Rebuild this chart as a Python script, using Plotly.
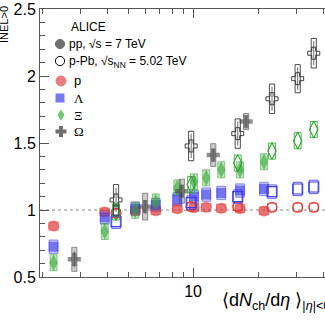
import plotly.graph_objects as go

# ---- data: yield ratios normalised to the inclusive (INEL>0) value ----
# pp, sqrt(s) = 7 TeV
pp_mult = [2.26, 3.90, 5.40, 6.72, 8.45, 10.1, 11.5, 13.5, 16.5, 21.3]
pp_p    = [0.88, 0.985, 0.995, 0.995, 1.01, 1.017, 1.02, 1.013, 1.01, 0.993]
pp_lam  = [0.726, 0.945, 1.01, 1.037, 1.08, 1.10, 1.115, 1.127, 1.145, 1.157]
pp_xi   = [0.607, 0.84, 0.998, 1.06, 1.165, 1.21, 1.24, 1.30, 1.30, 1.36]
pp_om_mult = [2.82, 6.0, 8.87, 12.4, 17.6]
pp_om      = [0.632, 1.025, 1.14, 1.41, 1.66]

# p-Pb, sqrt(s_NN) = 5.02 TeV
ppb_mult = [4.4, 9.8, 16.1, 23.2, 30.5, 36.2]
ppb_p    = [0.975, 1.025, 1.025, 1.02, 1.02, 1.02]
ppb_lam  = [0.913, 1.055, 1.10, 1.137, 1.157, 1.172]
ppb_xi   = [0.985, 1.19, 1.35, 1.44, 1.517, 1.60]
ppb_om   = [1.075, 1.478, 1.57, 1.83, 1.98, 2.17]

# systematic (box) and statistical (bar) half-sizes
sys_p, sys_lam, sys_xi = 0.03, 0.05, 0.06
pp_om_sys  = [0.09, 0.10, 0.09, 0.085, 0.06]
pp_om_stat = [0.06, 0.05, 0.05, 0.05, 0.04]
ppb_om_sys  = [0.115, 0.11, 0.11, 0.11, 0.105, 0.11]
ppb_om_stat = [0.09, 0.09, 0.09, 0.09, 0.085, 0.09]

RED, BLUE, GREEN, GREY, DARK = (225, 60, 60), (60, 60, 235), (50, 165, 50), (70, 70, 70), (45, 45, 45)


def rgba(c, a):
    return f"rgba({c[0]},{c[1]},{c[2]},{a})"


fig = go.Figure()
shapes = []


def boxes(xs, ys, sys, col, hw, filled):
    sys = sys if isinstance(sys, list) else [sys] * len(xs)
    for x, y, s in zip(xs, ys, sys):
        shapes.append(dict(
            type="rect", xref="x", yref="y", layer="below" if filled else "above",
            x0=x * 10 ** (-hw), x1=x * 10 ** hw, y0=y - s, y1=y + s,
            line=dict(color=rgba(col, 0.55 if filled else 0.85), width=1),
            fillcolor=rgba(col, 0.28) if filled else "rgba(0,0,0,0)"))


# pp: filled, semi-transparent markers with shaded boxes
boxes(pp_mult, pp_p, sys_p, RED, 0.022, True)
boxes(pp_mult, pp_lam, sys_lam, BLUE, 0.02, True)
boxes(pp_mult, pp_xi, sys_xi, GREEN, 0.016, True)
boxes(pp_om_mult, pp_om, pp_om_sys, GREY, 0.012, True)
# p-Pb: open markers with open boxes
boxes(ppb_mult, ppb_p, sys_p, RED, 0.02, False)
boxes(ppb_mult, ppb_lam, sys_lam, BLUE, 0.02, False)
boxes(ppb_mult, ppb_xi, sys_xi, GREEN, 0.016, False)
boxes(ppb_mult, ppb_om, ppb_om_sys, DARK, 0.012, False)


def add(xs, ys, sym, col, size, filled, err=None, lw=1.1):
    m = dict(symbol=sym, size=size)
    if filled:
        m.update(color=rgba(col, 0.6), line=dict(width=0))
    else:
        m.update(color=rgba(col, 1), line=dict(width=lw, color=rgba(col, 1)))
    fig.add_trace(go.Scatter(
        x=xs, y=ys, mode="markers", marker=m, showlegend=False,
        error_y=dict(type="data", array=err, color=rgba(col, 0.7), thickness=1, width=0)
        if err else None))


add(pp_mult, pp_p, "circle", RED, 11, True)
add(pp_mult, pp_lam, "square", BLUE, 10, True)
add(pp_mult, pp_xi, "diamond-tall", GREEN, 12, True)
add(pp_om_mult, pp_om, "cross", GREY, 11, True, pp_om_stat)
add(ppb_mult, ppb_p, "circle-open", RED, 10, False)
add(ppb_mult, ppb_lam, "square-open", BLUE, 10, False)
add(ppb_mult, ppb_xi, "diamond-tall-open", GREEN, 12, False)
add(ppb_mult, ppb_om, "cross-open", DARK, 10, False, ppb_om_stat, lw=0.9)

# ---- layout helpers in pixel units of the frame ----
PL, PT, PW, PH = 40, 9, 285, 268


def fx(x):
    return (x - PL) / PW


def fy(y):
    return (PT + PH - y) / PH


def path(pts):
    return "M " + " L ".join(f"{fx(a):.5f},{fy(b):.5f}" for a, b in pts) + " Z"


# unity reference line
shapes.append(dict(type="line", xref="paper", yref="y", x0=0, x1=1, y0=1, y1=1,
                   line=dict(color="#888", width=1, dash="dot"), layer="below"))


# legend symbols
def circ(cx, cy, r, fill, line):
    shapes.append(dict(type="circle", xref="paper", yref="paper",
                       x0=fx(cx - r), x1=fx(cx + r), y0=fy(cy + r), y1=fy(cy - r),
                       fillcolor=fill, line=dict(color=line, width=1)))


circ(60, 44, 4.6, "rgb(110,110,110)", "rgb(110,110,110)")
circ(60, 61, 4.6, "white", "black")
circ(61, 81, 5, "rgb(232,125,125)", "rgb(232,125,125)")
shapes.append(dict(type="path", xref="paper", yref="paper",
                   path=path([(55.5, 93.5), (64.5, 93.5), (64.5, 102.5), (55.5, 102.5)]),
                   fillcolor="rgb(120,120,245)", line=dict(width=0)))
shapes.append(dict(type="path", xref="paper", yref="paper",
                   path=path([(61, 109.5), (64.5, 115), (61, 120.5), (57.5, 115)]),
                   fillcolor="rgb(110,200,110)", line=dict(width=0)))
shapes.append(dict(type="path", xref="paper", yref="paper",
                   path=path([(59, 126), (63, 126), (63, 129.5), (66.5, 129.5), (66.5, 133.5),
                              (63, 133.5), (63, 137), (59, 137), (59, 133.5), (55.5, 133.5),
                              (55.5, 129.5), (59, 129.5)]),
                   fillcolor="rgb(110,110,110)", line=dict(width=0)))

FONT = "Liberation Sans, Arial, Helvetica, sans-serif"
SERIF = "Liberation Serif, Times New Roman, serif"
ann = []


def txt(x, y, s, size=12, family=FONT, **kw):
    d = dict(x=fx(x), y=fy(y), xref="paper", yref="paper", text=s, showarrow=False,
             xanchor="left", yanchor="middle", font=dict(size=size, family=family, color="black"))
    d.update(kw)
    ann.append(d)


txt(69, 27, "ALICE")
txt(67, 44, "pp, √s = 7 TeV")
txt(67, 62, "p-Pb, √s<sub>NN</sub> = 5.02 TeV")
txt(72, 80, "p", 13)
txt(72, 98, "Λ", 13, SERIF)
txt(72, 115, "Ξ", 13, SERIF)
txt(72, 131, "Ω", 13, SERIF)

# axis titles (the frame runs to the right-hand edge of the page)
txt(220, 301, "⟨d<i>N</i><sub>ch</sub>/d<i>η</i> ⟩<sub>|<i>η</i>|&lt;0.5</sub>", 18)
txt(4, 25, "INEL&gt;0", 11, textangle=-90, xanchor="center")

fig.update_layout(
    width=325, height=325, margin=dict(l=PL, r=0, t=PT, b=325 - PT - PH),
    paper_bgcolor="white", plot_bgcolor="white", shapes=shapes, annotations=ann,
    font=dict(family=FONT, size=16, color="black"),
    xaxis=dict(type="log", range=[0.2914, 1.6108], showgrid=False, zeroline=False,
               showline=True, mirror="allticks", linecolor="#555", linewidth=1,
               ticks="inside", ticklen=9, tickcolor="#555", tickvals=[10], ticktext=["10"],
               minor=dict(tickvals=[2, 3, 4, 5, 6, 7, 8, 9, 20, 30, 40], ticks="inside",
                          ticklen=5, tickcolor="#555")),
    yaxis=dict(range=[0.5, 2.5], showgrid=False, zeroline=False, showline=True,
               linecolor="#555", linewidth=1, ticks="inside", ticklen=9, tickcolor="#555",
               tickvals=[0.5, 1, 1.5, 2, 2.5], ticktext=["0.5", "1", "1.5", "2", "2.5"],
               minor=dict(dtick=0.1, ticks="inside", ticklen=5, tickcolor="#555")),
)

fig.write_html("out.html")
